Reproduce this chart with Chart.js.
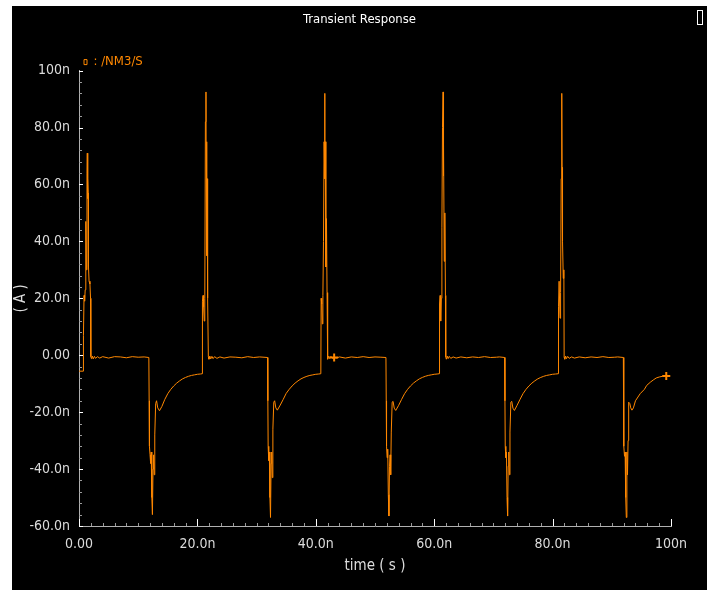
<!DOCTYPE html>
<html>
<head>
<meta charset="utf-8">
<title>Transient Response</title>
<script src="https://cdn.jsdelivr.net/npm/chart.js@4.4.1/dist/chart.umd.min.js"></script>
<style>
  html, body { margin: 0; padding: 0; background: #ffffff; }
  #wrap { position: absolute; left: 12px; top: 6px; width: 695px; height: 584px; background: #000000; }
  canvas { display: block; }
</style>
</head>
<body>
<div id="wrap"><canvas id="tran" width="695" height="584"></canvas></div>
<script>
// time in ns, current in nA
const timeNs = [
  0, 0.72, 0.75, 0.85, 0.95, 1.05, 1.15, 1.25, 1.35, 1.4, 1.45, 1.5, 1.55, 1.6, 1.7, 1.85, 1.95,
  2.0, 2.1, 2.25, 2.4, 2.6, 2.8, 3.1, 3.5, 4.0, 5.0, 6.0, 7.0, 8.0, 9.0, 10.0, 11.0, 11.8,
  11.85, 11.9, 12.0, 12.1, 12.2, 12.3, 12.4, 12.5, 12.6, 12.7, 12.8, 12.95, 13.1, 13.3, 13.6,
  14.0, 14.5, 15.0, 15.5, 16.0, 16.5, 17.0, 17.5, 18.0, 18.5, 19.0, 19.5, 20.0, 20.5, 20.8,

  20.85, 20.95, 21.05, 21.15, 21.25, 21.35, 21.45, 21.5, 21.55, 21.6, 21.65, 21.7, 21.75,
  21.85, 21.95, 22.1, 22.25, 22.45, 22.65, 22.9, 23.3, 23.8, 24.5, 25.5, 26.5, 27.5, 28.5, 29.5, 30.5, 31.85,
  31.9, 31.95, 32.05, 32.15, 32.25, 32.35, 32.45, 32.55, 32.65, 32.75, 32.9, 33.05, 33.25, 33.5,
  34.0, 34.5, 35.0, 35.5, 36.0, 36.5, 37.0, 37.5, 38.0, 38.5, 39.0, 39.5, 40.0, 40.5, 40.85,

  40.9, 41.0, 41.1, 41.2, 41.3, 41.4, 41.5, 41.55, 41.6, 41.7, 41.8, 41.9,
  41.95, 42.05, 42.2, 42.35, 42.55, 42.8, 43.1, 43.5, 44.0, 45.0, 46.0, 47.0, 48.0, 49.0, 50.0, 51.0, 51.85,
  51.9, 51.95, 52.05, 52.15, 52.25, 52.35, 52.45, 52.55, 52.65, 52.75, 52.9, 53.05, 53.25, 53.5,
  54.0, 54.5, 55.0, 55.5, 56.0, 56.5, 57.0, 57.5, 58.0, 58.5, 59.0, 59.5, 60.0, 60.5, 60.85,

  60.9, 61.0, 61.1, 61.2, 61.3, 61.4, 61.5, 61.55, 61.6, 61.7, 61.8, 61.9,
  61.95, 62.05, 62.2, 62.35, 62.55, 62.8, 63.2, 63.7, 64.5, 65.5, 66.5, 67.5, 68.5, 69.5, 70.5, 71.0, 71.9,
  71.95, 72.0, 72.1, 72.2, 72.3, 72.4, 72.5, 72.6, 72.7, 72.8, 72.95, 73.1, 73.3, 73.55,
  74.0, 74.5, 75.0, 75.5, 76.0, 76.5, 77.0, 77.5, 78.0, 78.5, 79.0, 79.5, 80.0, 80.5, 80.95,

  81.0, 81.1, 81.25, 81.35, 81.45, 81.55, 81.6, 81.65, 81.7, 81.8, 81.9,
  81.95, 82.05, 82.2, 82.35, 82.55, 82.8, 83.2, 83.7, 84.5, 85.5, 86.5, 87.5, 88.5, 89.5, 90.5, 91.0, 91.95,
  92.0, 92.05, 92.15, 92.25, 92.35, 92.45, 92.55, 92.65, 92.75, 92.85, 93.05, 93.2, 93.4, 93.65,
  94.0, 94.8, 95.5, 95.9, 96.5, 97.0, 97.5, 98.1, 98.6, 99.1, 99.5, 100.0
];

const currentNA = [
  -5.6, -5.6, 7, 21, 19, 23, 47, 30, 64, 71, 55, 62, 57, 31, 26, 25, 20,
  -0.5, -1.2, -0.3, -1.3, -0.4, -1.1, -0.5, -1.0, -0.5, -1.0, -0.5, -0.6, -0.9, -0.5, -0.7, -0.6, -0.8,
  -16, -32, -35, -38, -34, -50, -56, -40, -35, -42, -28, -17, -16, -18.5, -19.5,
  -18, -15.5, -13.5, -12, -10.8, -9.8, -9, -8.3, -7.8, -7.4, -7.1, -6.9, -6.7, -6.6, -6.5,

  19, 21, 17, 12, 20, 82, 92.5, 60, 75, 35, 62, 40, 20,
  -0.5, -1.4, -0.3, -1.3, -0.4, -1.2, -0.5, -1.1, -0.6, -1.0, -0.6, -0.7, -0.9, -0.5, -0.8, -0.6, -0.8,
  -16, -32, -37, -34, -50, -57, -38, -34, -43, -26, -16.5, -16, -18.5, -19.3,
  -17.5, -15.5, -13.4, -12, -10.8, -9.8, -9, -8.3, -7.8, -7.4, -7.1, -6.9, -6.7, -6.6, -6.5,

  20, 18, 11, 21, 40, 75, 92, 62, 75, 31, 48, 22,
  -0.7, -1.4, -0.3, -1.2, -0.4, -1.1, -0.8, -1.0, -0.6, -1.0, -0.6, -0.8, -0.5, -0.8, -0.6, -0.7, -0.8,
  -16, -32, -36, -33, -49, -56.5, -39, -35, -42, -27, -16.5, -16.2, -18.6, -19.4,
  -17.6, -15.5, -13.5, -12, -10.8, -9.8, -9, -8.3, -7.8, -7.4, -7.1, -6.9, -6.7, -6.6, -6.5,

  18, 21, 12, 20, 45, 80, 92.5, 63, 74, 33, 50, 21,
  -0.6, -1.4, -0.3, -1.2, -0.4, -1.1, -0.6, -1.0, -0.6, -0.9, -0.6, -0.8, -0.5, -0.8, -0.7, -0.6, -0.8,
  -16, -32, -36, -34, -50, -56.5, -39, -34, -42, -27, -16.5, -16.2, -18.6, -19.4,
  -17.6, -15.5, -13.5, -12, -10.8, -9.8, -9, -8.3, -7.8, -7.4, -7.1, -6.9, -6.7, -6.6, -6.5,

  17, 26, 13, 22, 62, 92, 65, 66, 40, 27, 30,
  -0.7, -1.4, -0.3, -1.2, -0.4, -1.1, -0.6, -1.0, -0.6, -0.9, -0.6, -0.8, -0.5, -0.8, -0.7, -0.6, -0.8,
  -16, -32, -35.5, -34, -50, -57, -34, -42, -30, -16.5, -17, -18.5, -19.3,
  -18.5, -16, -13.5, -12, -10.6, -9.5, -8.7, -8, -7.6, -7.4, -7.3, -7.3
];

// cross markers drawn on the trace
const markerTimeNs = [43.1, 99.2];
const markerCurrentNA = [-0.8, -7.3];

const xTickValues = [0, 20, 40, 60, 80, 100];
const xTickLabels = ['0.00', '20.0n', '40.0n', '60.0n', '80.0n', '100n'];
const yTickValues = [-60, -40, -20, 0, 20, 40, 60, 80, 100];
const yTickLabels = ['-60.0n', '-40.0n', '-20.0n', '0.00', '20.0n', '40.0n', '60.0n', '80.0n', '100n'];

const traceColor = '#ff8800';
const textColor = '#dcdcdc';
const fontFamily = "'Liberation Sans Narrow', 'DejaVu Sans Condensed', sans-serif";

const innerTicks = {
  id: 'innerTicks',
  afterDraw(chart) {
    const ctx = chart.ctx;
    const area = chart.chartArea;
    const xs = chart.scales.x;
    const ys = chart.scales.y;
    ctx.save();
    ctx.lineWidth = 1;
    for (let v = 0; v <= 100; v += 2) {
      const px = Math.round(xs.getPixelForValue(v)) + 0.5;
      const major = v % 20 === 0;
      ctx.strokeStyle = major ? '#ffffff' : '#9a9a9a';
      ctx.beginPath();
      ctx.moveTo(px, area.bottom);
      ctx.lineTo(px, area.bottom - (major ? 7 : 3));
      ctx.stroke();
    }
    for (let v = -60; v <= 100; v += 4) {
      const py = Math.round(ys.getPixelForValue(v)) + 0.5;
      const major = v % 20 === 0;
      ctx.strokeStyle = major ? '#ffffff' : '#9a9a9a';
      ctx.beginPath();
      ctx.moveTo(area.left, py);
      ctx.lineTo(area.left + (major ? 4 : 3), py);
      ctx.stroke();
    }
    // little window icon in the corner
    ctx.strokeStyle = '#ffffff';
    ctx.strokeRect(685.5, 4.5, 5, 14);
    ctx.restore();
  }
};

const ctx = document.getElementById('tran').getContext('2d');
const chart = new Chart(ctx, {
  type: 'line',
  data: {
    datasets: [{
      label: '/NM3/S',
      data: timeNs.map((t, i) => ({ x: t, y: currentNA[i] })),
      borderColor: traceColor,
      backgroundColor: traceColor,
      borderWidth: 1,
      pointRadius: 0,
      tension: 0,
    }, {
      label: 'markers',
      data: markerTimeNs.map((t, i) => ({ x: t, y: markerCurrentNA[i] })),
      showLine: false,
      pointStyle: 'cross',
      pointRadius: 4,
      borderColor: traceColor,
      borderWidth: 2,
    }]
  },
  options: {
    responsive: false,
    animation: false,
    layout: { padding: { top: 0, right: 0, bottom: 15, left: 0 } },
    plugins: {
      title: {
        display: true,
        text: 'Transient Response',
        color: '#ffffff',
        font: { family: fontFamily, size: 13, weight: 'normal' },
        padding: { top: 6, bottom: 23 },
      },
      legend: {
        display: true,
        position: 'top',
        align: 'start',
        fullSize: false,
        maxHeight: 20,
        labels: {
          color: traceColor,
          font: { family: fontFamily, size: 13 },
          boxWidth: 3,
          boxHeight: 5,
          padding: 5,
          generateLabels: () => [{
            text: ': /NM3/S',
            fillStyle: '#000000',
            strokeStyle: traceColor,
            lineWidth: 1,
            fontColor: traceColor,
            datasetIndex: 0,
          }],
        },
      },
      tooltip: { enabled: false },
    },
    scales: {
      x: {
        type: 'linear',
        min: 0,
        max: 100,
        afterBuildTicks: (scale) => { scale.ticks = xTickValues.map(v => ({ value: v })); },
        afterFit: (scale) => { scale.height = 49; },
        ticks: {
          color: textColor,
          font: { family: fontFamily, size: 14 },
          padding: 10,
          maxRotation: 0,
          callback: (value) => xTickLabels[xTickValues.indexOf(value)],
        },
        grid: { display: true, drawOnChartArea: false, drawTicks: false },
        border: { display: true, color: '#b0b0b0' },
        title: {
          display: true,
          text: 'time ( s )',
          color: textColor,
          font: { family: fontFamily, size: 15 },
          padding: { top: 0, bottom: 0 },
        },
      },
      y: {
        type: 'linear',
        min: -60,
        max: 100,
        afterBuildTicks: (scale) => { scale.ticks = yTickValues.map(v => ({ value: v })); },
        afterFit: (scale) => { scale.width = 67; },
        ticks: {
          color: textColor,
          font: { family: fontFamily, size: 14 },
          padding: 9,
          callback: (value) => yTickLabels[yTickValues.indexOf(value)],
        },
        grid: { display: true, drawOnChartArea: false, drawTicks: false },
        border: { display: true, color: '#b0b0b0' },
        title: {
          display: true,
          text: '( A )',
          color: textColor,
          font: { family: fontFamily, size: 15 },
          padding: { top: 0, bottom: 0 },
        },
      },
      // empty axis that only keeps the right margin
      yRight: {
        position: 'right',
        afterFit: (scale) => { scale.width = 36; },
        ticks: { display: false },
        grid: { display: false },
        border: { display: false },
      }
    }
  },
  plugins: [innerTicks]
});
</script>
</body>
</html>
